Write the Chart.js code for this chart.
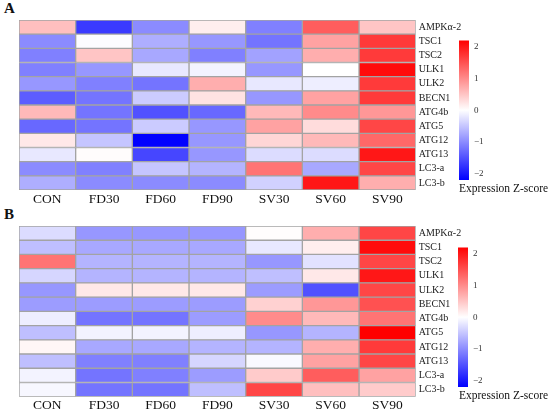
<!DOCTYPE html>
<html>
<head>
<meta charset="utf-8">
<script src="https://cdn.jsdelivr.net/npm/chart.js@4.4.1/dist/chart.umd.min.js"></script>
<style>
  html, body { margin: 0; padding: 0; background: #fff; }
  body { width: 550px; height: 413px; position: relative; overflow: hidden; }
  canvas { position: absolute; }
  .tag { position: absolute; font: bold 15px 'Liberation Serif', serif; line-height: 15px; color: #111; }
  .cbt { position: absolute; font: 11.5px 'Liberation Serif', serif; line-height: 13px; color: #111; white-space: nowrap; }
</style>
</head>
<body>
<div class="tag" style="left:4px;top:1px">A</div>
<div class="tag" style="left:4px;top:207px">B</div>
<canvas id="heatA" width="550" height="206" style="left:0;top:0"></canvas>
<canvas id="barA" width="110" height="165" style="left:440px;top:30px"></canvas>
<div class="cbt" style="left:459px;top:182px">Expression Z-score</div>
<canvas id="heatB" width="550" height="207" style="left:0;top:206px"></canvas>
<canvas id="barB" width="110" height="165" style="left:439px;top:237px"></canvas>
<div class="cbt" style="left:459px;top:389px">Expression Z-score</div>
<script>
const genes = ['AMPKα-2', 'TSC1', 'TSC2', 'ULK1', 'ULK2', 'BECN1', 'ATG4b', 'ATG5', 'ATG12', 'ATG13', 'LC3-a', 'LC3-b'];
const groups = ['CON', 'FD30', 'FD60', 'FD90', 'SV30', 'SV60', 'SV90'];
const scaleTicks = [-2, -1, 0, 1, 2];

// panel A, z-scores per group (top row to bottom row)
const conA  = [0.55, -1.0, -1.1, -1.1, -0.9, -1.4, 0.6, -1.3, 0.2, -0.2, -1.0, -0.7];
const fd30A = [-1.7, -0.03, 0.5, -0.9, -1.1, -1.2, -1.2, -1.2, -0.5, 0.03, -1.1, -1.0];
const fd60A = [-1.0, -0.7, -0.75, -0.2, -1.2, -0.45, -1.5, -0.45, -2.2, -1.6, -0.5, -1.0];
const fd90A = [0.15, -0.9, -1.1, -0.1, 0.7, 0.25, -1.3, -0.9, -0.9, -0.9, -0.65, -1.0];
const sv30A = [-1.1, -1.2, -0.8, -0.9, -0.2, -0.9, 0.6, 0.8, 0.35, -0.3, 1.2, -0.4];
const sv60A = [1.4, 0.8, 0.7, 0.0, -0.15, 0.8, 1.0, 0.3, 0.6, -0.3, -0.75, 2.0];
const sv90A = [0.5, 1.7, 1.7, 2.1, 1.7, 1.7, 0.9, 1.6, 1.3, 2.0, 1.6, 0.7];

// panel B
const conB  = [-0.3, -0.55, 1.2, -0.35, -0.9, -0.85, -0.15, -0.55, 0.08, -0.55, -0.1, -0.07];
const fd30B = [-0.9, -0.75, -0.65, -0.65, 0.2, -0.85, -1.2, -0.1, -0.75, -1.1, -1.2, -1.2];
const fd60B = [-0.9, -0.75, -0.65, -0.65, 0.2, -0.85, -1.2, -0.1, -0.75, -1.1, -1.1, -1.2];
const fd90B = [-0.9, -0.75, -0.65, -0.65, 0.2, -0.85, -0.85, -0.15, -0.65, -0.35, -0.85, -0.55];
const sv30B = [0.02, -0.2, -0.9, -0.55, -0.85, 0.4, 1.0, -0.9, -0.65, -0.05, 0.45, 1.6];
const sv60B = [0.7, 0.15, -0.25, 0.2, -1.5, 0.9, 0.6, -0.65, 0.7, 0.8, 1.4, 0.55];
const sv90B = [1.6, 2.1, 1.6, 2.0, 1.6, 1.5, 1.2, 2.2, 1.7, 1.6, 0.8, 0.45];

const zMax = 2.2;
const serif = "'Liberation Serif', 'DejaVu Serif', serif";

// blue - white - red ramp
function zColor(z) {
  const t = Math.min(Math.abs(z) / zMax, 1);
  const c = Math.round(255 * (1 - t));
  return z >= 0 ? `rgb(255,${c},${c})` : `rgb(${c},${c},255)`;
}

function heatmap(id, cols, xAxisH) {
  const canvas = document.getElementById(id);
  return new Chart(canvas.getContext('2d'), {
    type: 'bar',
    data: {
      labels: genes,
      datasets: cols.map((vals, i) => ({
        label: groups[i],
        data: vals.map(() => 1),
        backgroundColor: vals.map(zColor),
        borderColor: '#a3a3a3',
        borderWidth: 1,
        borderSkipped: false,
        barPercentage: 1,
        categoryPercentage: 1
      }))
    },
    options: {
      indexAxis: 'y',
      responsive: false,
      animation: false,
      layout: { padding: { left: 19, top: 20, right: 0, bottom: 0 } },
      plugins: { legend: { display: false }, tooltip: { enabled: false } },
      scales: {
        x: {
          type: 'linear', stacked: true, min: 0, max: groups.length,
          afterBuildTicks: (s) => { s.ticks = groups.map((g, i) => ({ value: i + 0.5 })); },
          afterFit: (s) => { s.height = xAxisH; },
          grid: { display: false, drawTicks: false },
          border: { display: false },
          ticks: {
            autoSkip: false, maxRotation: 0, padding: 1,
            color: '#111', font: { family: serif, size: 13.5 },
            callback: (v, i) => groups[i]
          }
        },
        y: {
          stacked: true, position: 'right',
          afterFit: (s) => { s.width = 134.3; },
          grid: { display: false, drawTicks: false },
          border: { display: false },
          ticks: { autoSkip: false, padding: 3, color: '#222', font: { family: serif, size: 10 } }
        }
      }
    }
  });
}

function colorbar(id) {
  const canvas = document.getElementById(id);
  return new Chart(canvas.getContext('2d'), {
    type: 'bar',
    data: {
      labels: [''],
      datasets: [{
        data: [[-zMax, zMax]],
        barPercentage: 1,
        categoryPercentage: 1,
        borderWidth: 0,
        backgroundColor: (ctx) => {
          const area = ctx.chart.chartArea;
          if (!area) return '#fff';
          const g = ctx.chart.ctx.createLinearGradient(0, area.bottom, 0, area.top);
          g.addColorStop(0, zColor(-zMax));
          g.addColorStop(0.5, zColor(0));
          g.addColorStop(1, zColor(zMax));
          return g;
        }
      }]
    },
    options: {
      responsive: false,
      animation: false,
      layout: { padding: { left: 19, top: 8, right: 0, bottom: 0 } },
      plugins: { legend: { display: false }, tooltip: { enabled: false } },
      scales: {
        x: {
          afterFit: (s) => { s.height = 15; },
          grid: { display: false, drawTicks: false },
          border: { display: false },
          ticks: { display: false }
        },
        y: {
          position: 'right', min: -zMax, max: zMax,
          afterBuildTicks: (s) => { s.ticks = scaleTicks.map(v => ({ value: v })); },
          afterFit: (s) => { s.width = 81; },
          grid: { display: false, drawTicks: false },
          border: { display: false },
          ticks: {
            padding: 5, color: '#333', font: { family: serif, size: 9 },
            callback: (v) => v < 0 ? '\u2212' + Math.abs(v) : String(v)
          }
        }
      }
    }
  });
}

heatmap('heatA', [conA, fd30A, fd60A, fd90A, sv30A, sv60A, sv90A], 16);
heatmap('heatB', [conB, fd30B, fd60B, fd90B, sv30B, sv60B, sv90B], 16.3);
colorbar('barA');
colorbar('barB');
</script>
</body>
</html>
